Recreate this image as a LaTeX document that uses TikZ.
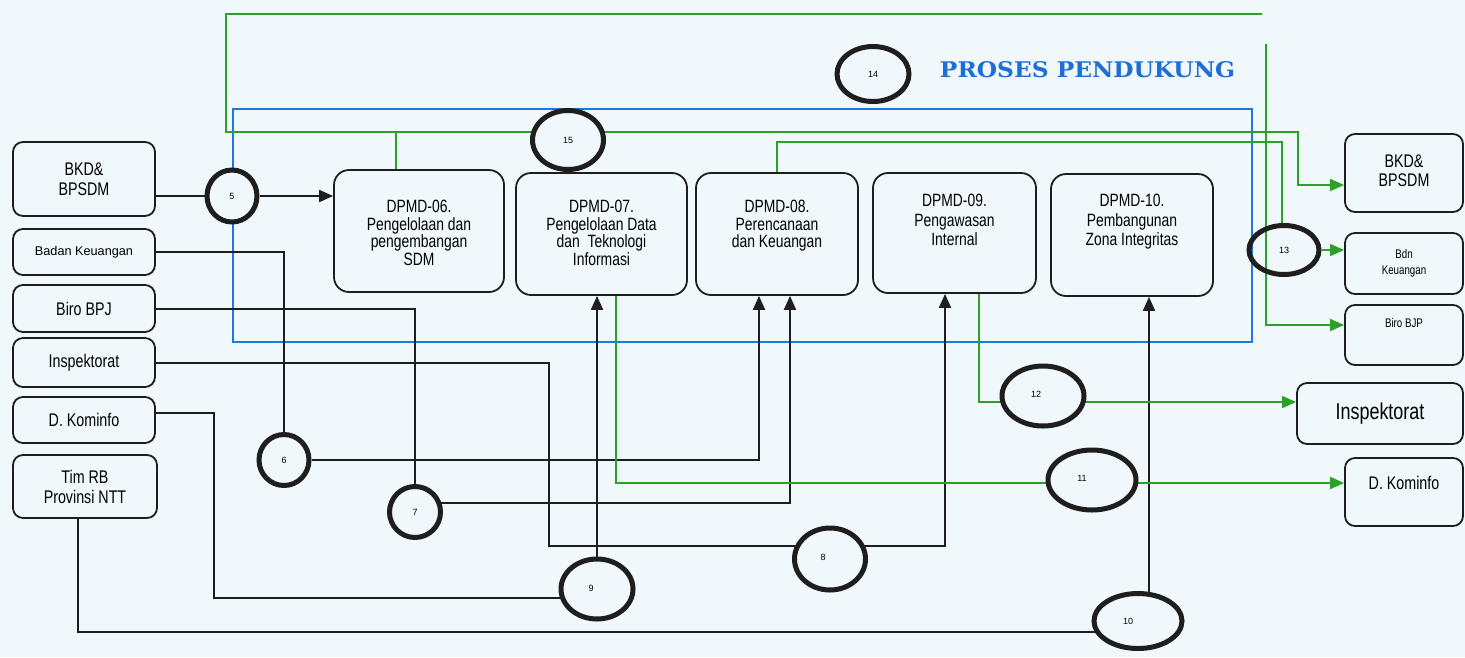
\documentclass[tikz,border=0pt]{standalone}
\usepackage{fontspec}
\setmainfont{Liberation Sans}
\newfontfamily\narrowfont{Liberation Sans}[FakeStretch=0.78]
\newfontfamily\headfont{DejaVu Serif}
\usetikzlibrary{shapes.geometric,arrows.meta,calc}

\definecolor{bgc}{RGB}{240,248,251}
\definecolor{linec}{RGB}{30,30,30}
\definecolor{greenc}{RGB}{45,160,40}
\definecolor{bluec}{RGB}{30,120,225}
\definecolor{titleblue}{RGB}{30,110,215}

\pgfdeclarelayer{bg}
\pgfdeclarelayer{wires}
\pgfsetlayers{bg,wires,main}

\tikzset{
  procbox/.style={draw=linec, line width=1.8pt, rounded corners=15pt, fill=bgc, inner sep=0pt},
  srcbox/.style={procbox, rounded corners=10pt, align=center,
    font=\narrowfont\fontsize{18.3}{20}\selectfont},
  btext/.style={anchor=north, align=center, inner sep=0pt,
    font=\narrowfont\fontsize{17.8}{17.5}\selectfont},
  btextwide/.style={btext, font=\narrowfont\fontsize{17.8}{19.5}\selectfont},
  num/.style={ellipse, draw=linec, line width=5pt, fill=bgc, inner sep=0pt,
    font=\fontsize{9}{10}\selectfont},
  wire/.style={draw=linec, line width=2pt},
  gwire/.style={draw=greenc, line width=1.6pt},
  bwire/.style={draw=bluec, line width=2.2pt},
  tip/.style={-{Triangle[length=14pt,width=12pt]}},
  gtip/.style={-{Triangle[length=14pt,width=12pt,fill=greenc]}},
}

\begin{document}
\begin{tikzpicture}[x=1pt,y=-1pt]
\useasboundingbox (0,0) rectangle (1465,657);
\begin{pgfonlayer}{bg}
  \fill[bgc] (0,0) rectangle (1465,657);
\end{pgfonlayer}

% ---- source units on the left
\node[srcbox, minimum width=142pt, minimum height=74pt] (bkdL) at (84,179) {BKD\&\\BPSDM};
\node[srcbox, minimum width=142pt, minimum height=46pt, font=\fontsize{12.7}{14}\selectfont] (bkL) at (84,252) {Badan Keuangan};
\node[srcbox, minimum width=142pt, minimum height=47pt] (bpjL) at (84,308.5) {Biro BPJ};
\node[srcbox, minimum width=142pt, minimum height=49pt] (inspL) at (84,362.5) {Inspektorat};
\node[srcbox, minimum width=142pt, minimum height=46pt] (dkL) at (84,420) {D. Kominfo};
\node[srcbox, minimum width=144pt, minimum height=63pt] (timL) at (85,486.5) {Tim RB\\Provinsi NTT};

% ---- supporting processes
\node[procbox, minimum width=170pt, minimum height=122pt] (d06) at (419,231) {};
\node[btext] (d06t) at ([yshift=-31pt]d06.north) {DPMD-06.\\Pengelolaan dan\\pengembangan\\SDM};
\node[procbox, minimum width=171pt, minimum height=122pt] (d07) at (601.5,234) {};
\node[btext] (d07t) at ([yshift=-28pt]d07.north) {DPMD-07.\\Pengelolaan Data\\dan\ \ Teknologi\\Informasi};
\node[procbox, minimum width=162pt, minimum height=122pt] (d08) at (777,234) {};
\node[btext] (d08t) at ([yshift=-28pt]d08.north) {DPMD-08.\\Perencanaan\\dan Keuangan};
\node[procbox, minimum width=163pt, minimum height=120pt] (d09) at (954.5,233) {};
\node[btextwide] (d09t) at ([yshift=-22pt]d09.north) {DPMD-09.\\Pengawasan\\Internal};
\node[procbox, minimum width=162pt, minimum height=122pt] (d10) at (1132,235) {};
\node[btextwide] (d10t) at ([yshift=-21pt]d10.north) {DPMD-10.\\Pembangunan\\Zona Integritas};

% ---- receiving units on the right
\node[srcbox, minimum width=118pt, minimum height=78pt] (bkdR) at (1404,173) {};
\node[align=center, inner sep=0pt, font=\narrowfont\fontsize{18.3}{19}\selectfont] (bkdRt) at ([yshift=2pt]bkdR.center) {BKD\&\\BPSDM};
\node[srcbox, minimum width=118pt, minimum height=61pt, font=\narrowfont\fontsize{12.5}{16}\selectfont] (bdnR) at (1404,263.5) {Bdn\\Keuangan};
\node[srcbox, minimum width=118pt, minimum height=60pt] (bjpR) at (1404,335) {};
\node[inner sep=0pt, font=\narrowfont\fontsize{12.5}{13}\selectfont] (bjpRt) at ([yshift=12pt]bjpR.center) {Biro BJP};
\node[srcbox, minimum width=166pt, minimum height=61pt, font=\narrowfont\fontsize{23}{24}\selectfont] (insR) at (1380,413.5) {Inspektorat};
\node[srcbox, minimum width=118pt, minimum height=68pt] (dkR) at (1404,492) {};
\node[inner sep=0pt, font=\narrowfont\fontsize{18.3}{19}\selectfont] (dkRt) at ([yshift=9pt]dkR.center) {D. Kominfo};

% ---- title
\node[inner sep=0pt, text=titleblue] (title) at (1087.5,69.5)
  {\resizebox{295pt}{16pt}{\headfont\bfseries PROSES PENDUKUNG}};

% ---- numbered flows
\node[num, minimum width=50pt, minimum height=52pt] (c5) at (232,196) {5};
\node[num, minimum width=50pt, minimum height=51pt] (c6) at (284,460) {6};
\node[num, minimum width=51pt, minimum height=51pt] (c7) at (415,512) {7};
\node[num, minimum width=71pt, minimum height=62pt] (c8) at (830,559) {\raisebox{3pt}{8}\kern14pt};
\node[num, minimum width=72pt, minimum height=60pt] (c9) at (597,589) {\raisebox{2pt}{9}\kern12pt};
\node[num, minimum width=88pt, minimum height=55pt] (c10) at (1138,621) {10\kern20pt};
\node[num, minimum width=88pt, minimum height=60pt] (c11) at (1092,480) {\raisebox{3pt}{11}\kern20pt};
\node[num, minimum width=82pt, minimum height=60pt] (c12) at (1043,396) {\raisebox{4pt}{12}\kern14pt};
\node[num, minimum width=70pt, minimum height=49pt, fill=none] (c13) at (1284,250) {13};
\node[num, minimum width=72pt, minimum height=55pt] (c14) at (873,74) {14};
\node[num, minimum width=71pt, minimum height=59pt] (c15) at (568,140) {15};

% ---- junction points of the routed lines
\coordinate (d08a) at ([xshift=-18pt]d08.south);
\coordinate (d08b) at ([xshift=13pt]d08.south);
\coordinate (d09a) at ([xshift=-9.5pt]d09.south);
\coordinate (d10a) at ([xshift=17pt]d10.south);
\coordinate (k8) at (549,546);
\coordinate (k9) at (214,598);
\coordinate (k10) at (78,632);
\coordinate (g06) at ([xshift=-23pt]d06.north);
\coordinate (gTopL) at (226,14);
\coordinate (gTopR) at (1262,14);
\coordinate (gMidL) at (226,132);
\coordinate (gDrop) at (1298,132);
\coordinate (gBkd) at ([yshift=-12pt]bkdR.west);
\coordinate (g13) at (1282,142);
\coordinate (gBjp) at (1266,44);
\coordinate (g07) at ([xshift=14.5pt]d07.south);
\coordinate (g09) at ([xshift=24.5pt]d09.south);

\begin{pgfonlayer}{wires}
  % process frame
  \draw[bwire] (233,109) rectangle (1252,342);

  % inputs (black)
  \draw[wire] (bkdL.east |- c5) -- (c5);
  \draw[wire,tip] (c5) -- (c5 -| d06.west);
  \draw[wire] (bkL.east) -| (c6);
  \draw[wire,tip] (c6) -| (d08a);
  \draw[wire] (bpjL.east) -| (c7);
  \draw[wire,tip] ([yshift=9pt]c7.center) -| (d08b);
  \draw[wire] (inspL.east) -| (k8) -- (k8 -| c8);
  \draw[wire,tip] (k8 -| c8) -| (d09a);
  \draw[wire] ([yshift=7pt]dkL.east) -| (k9) -- (k9 -| c9);
  \draw[wire,tip] (c9) -- (c9 |- d07.south);
  \draw[wire] (timL.south -| k10) -- (k10) -- (k10 -| c10);
  \draw[wire,tip] (d10a |- c10) -- (d10a);

  % outputs (green)
  \draw[gwire] (g06) -- (g06 |- gMidL);
  \draw[gwire,gtip] (gTopR) -- (gTopL) -- (gMidL) -- (gDrop) -- (gDrop |- gBkd) -- (gBkd);
  \draw[gwire] (d08.north) |- (g13) -- (g13 |- c13.north);
  \draw[gwire,gtip] (c13.east) -- (c13.east -| bdnR.west);
  \draw[gwire,gtip] (gBjp) |- ([yshift=10pt]bjpR.west);
  \draw[gwire,gtip] (g07) |- ([yshift=9pt]dkR.west);
  \draw[gwire,gtip] (g09) |- ([yshift=11.5pt]insR.west);
\end{pgfonlayer}
\end{tikzpicture}
\end{document}
